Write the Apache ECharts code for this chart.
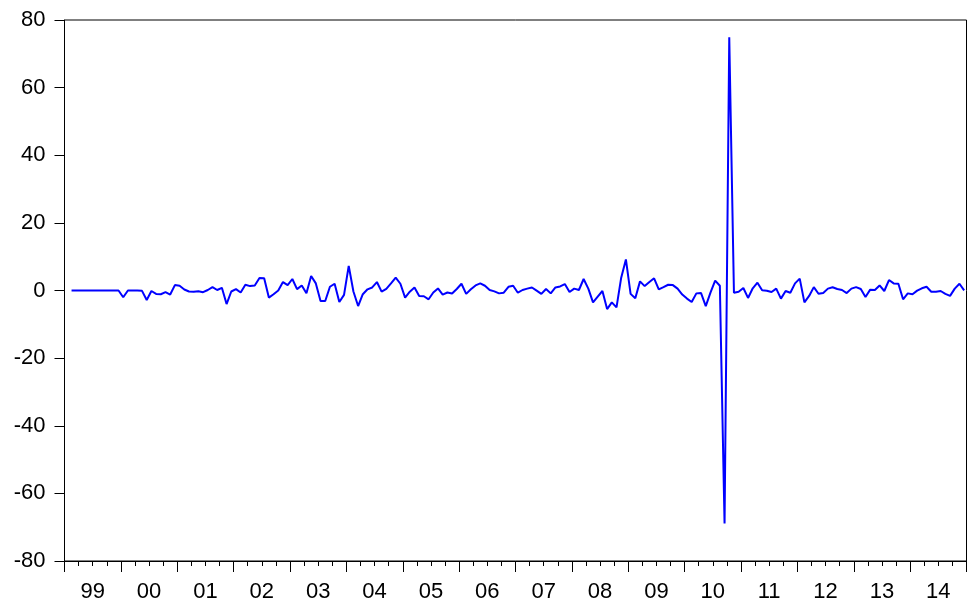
<!DOCTYPE html>
<html>
<head>
<meta charset="utf-8">
<script src="https://cdn.jsdelivr.net/npm/echarts@6/dist/echarts.min.js"></script>
<style>
html,body{margin:0;padding:0;background:#fff;}
#chart{width:968px;height:608px;}
</style>
</head>
<body>
<div id="chart"></div>
<script>
// Year labels (axis) and full years
var yearLabels = ['99','00','01','02','03','04','05','06','07','08','09','10','11','12','13','14'];
var years = [1999,2000,2001,2002,2003,2004,2005,2006,2007,2008,2009,2010,2011,2012,2013,2014];

// Monthly values, Jan..Dec of each year (1999M01 missing)
var y1999 = [null,0,0,0,0,0,0,0,0,0,0,0];
var y2000 = [-2.0,0,0,0,-0.1,-2.8,-0.15,-1.0,-1.1,-0.5,-1.2,1.6];
var y2001 = [1.4,0.3,-0.3,-0.4,-0.2,-0.5,0.15,1.0,0.15,0.8,-4.0,-0.3];
var y2002 = [0.4,-0.6,1.7,1.3,1.5,3.7,3.6,-2.1,-1.1,0,2.5,1.6];
var y2003 = [3.4,0.4,1.5,-0.8,4.3,2.1,-3.1,-3.1,1.1,2.0,-3.4,-1.3];
var y2004 = [7.3,-0.3,-4.6,-1.1,0.35,0.9,2.5,-0.35,0.5,2.1,3.8,2.0];
var y2005 = [-2.1,-0.35,0.9,-1.6,-1.7,-2.6,-0.6,0.6,-1.2,-0.6,-0.9,0.45];
var y2006 = [2.0,-1.0,0.35,1.5,2.1,1.4,0.15,-0.25,-0.85,-0.65,1.1,1.4];
var y2007 = [-0.65,0.15,0.55,0.9,-0.05,-1.0,0.45,-0.85,0.9,1.2,1.9,-0.45];
var y2008 = [0.55,0.15,3.4,0.55,-3.5,-1.8,-0.15,-5.5,-3.5,-5.0,3.8,9.2];
var y2009 = [-1.0,-2.3,2.7,1.3,2.5,3.6,0.35,1.0,1.7,1.6,0.55,-1.2];
var y2010 = [-2.4,-3.4,-0.85,-0.75,-4.6,-0.65,2.9,1.4,-68.9,74.9,-0.65,-0.35];
var y2011 = [0.75,-2.2,0.65,2.3,0.05,-0.05,-0.45,0.55,-2.4,-0.15,-0.65,2.1];
var y2012 = [3.5,-3.5,-1.6,1.0,-0.95,-0.75,0.55,0.95,0.45,0.15,-0.75,0.55];
var y2013 = [1.0,0.45,-1.9,0.25,0.15,1.5,-0.15,3.1,2.1,2.0,-2.6,-0.85];
var y2014 = [-1.1,-0.05,0.65,1.1,-0.35,-0.35,-0.15,-1.0,-1.6,0.55,2.0,0.05];

var yTicks = [-80,-60,-40,-20,0,20,40,60,80];

var allYears = [y1999,y2000,y2001,y2002,y2003,y2004,y2005,y2006,y2007,y2008,y2009,y2010,y2011,y2012,y2013,y2014];
var months = [];
var values = [];
for (var k = 0; k < years.length; k++) {
  for (var m = 0; m < 12; m++) {
    months.push(years[k] + 'M' + (m < 9 ? '0' : '') + (m + 1));
    values.push(allYears[k][m]);
  }
}

var FONT = '"Liberation Sans", Arial, sans-serif';
var chart = echarts.init(document.getElementById('chart'), null, {renderer: 'canvas'});
chart.setOption({
  animation: false,
  backgroundColor: '#ffffff',
  grid: {left: 64.5, right: 1.5, top: 20, bottom: 47, show: true, borderColor: '#000', borderWidth: 1, containLabel: false},
  xAxis: [
    {
      type: 'category', data: months, boundaryGap: true, position: 'bottom',
      axisLine: {show: true, onZero: false, lineStyle: {color: '#000', width: 1}},
      axisTick: {show: true, length: 5, interval: function (i) { return i % 3 === 0; }, lineStyle: {color: '#000', width: 1}},
      axisLabel: {show: false},
      splitLine: {show: false}
    },
    {
      type: 'category', data: yearLabels, boundaryGap: true, position: 'bottom',
      axisLine: {show: false, onZero: false},
      axisTick: {show: true, length: 11, interval: 0, lineStyle: {color: '#000', width: 1}},
      axisLabel: {show: true, interval: 0, margin: 20, color: '#000', fontSize: 22, fontFamily: FONT},
      splitLine: {show: false}
    }
  ],
  yAxis: {
    type: 'value', min: yTicks[0], max: yTicks[yTicks.length - 1], interval: 20,
    axisLine: {show: true, onZero: false, lineStyle: {color: '#000', width: 1}},
    axisTick: {show: true, inside: false, length: 10, lineStyle: {color: '#000', width: 1}},
    axisLabel: {color: '#000', fontSize: 22, fontFamily: FONT, margin: 19},
    splitLine: {show: false}
  },
  series: [{
    type: 'line', xAxisIndex: 0, data: values, showSymbol: false, symbol: 'none',
    connectNulls: false,
    lineStyle: {color: '#0000ff', width: 2},
    itemStyle: {color: '#0000ff'}
  }]
});
</script>
</body>
</html>
